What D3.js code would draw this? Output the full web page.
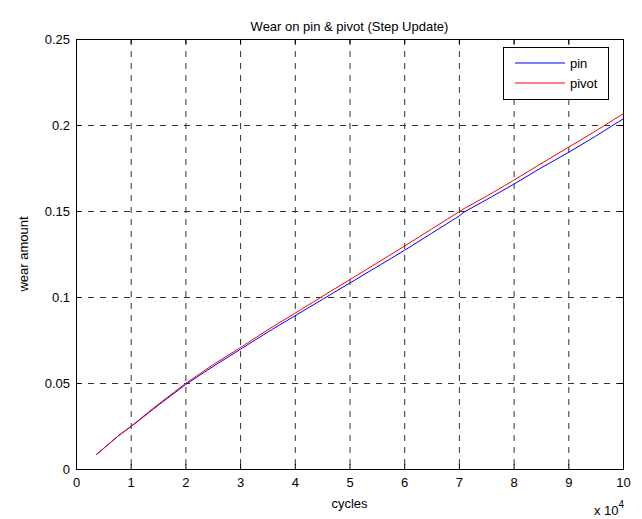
<!DOCTYPE html>
<html>
<head>
<meta charset="utf-8">
<script src="https://cdn.jsdelivr.net/npm/d3@7"></script>
<style>
  body { margin: 0; background: #fff; }
  text { font-family: "Liberation Sans", Arial, sans-serif; fill: #000; }
</style>
</head>
<body>
<div id="chart"></div>
<script>
// cycles, in units of 10^4
const cycles = [0.37, 0.77, 1.0, 1.5, 2.0, 2.5, 3.0, 3.5, 4.0, 4.5, 5.0, 5.5, 6.0, 6.5, 7.0, 7.1, 7.5, 8.0, 8.5, 9.0, 9.5, 10.0];
// wear amount for pin
const pinWear = [0.0083, 0.0192, 0.0245, 0.0370, 0.0490, 0.0595, 0.0695, 0.0795, 0.0890, 0.0985, 0.1080, 0.1175, 0.1270, 0.1370, 0.1470, 0.1495, 0.1565, 0.1655, 0.1750, 0.1840, 0.1935, 0.2035];
// wear amount for pivot
const pivotWear = [0.0083, 0.0192, 0.0247, 0.0375, 0.0497, 0.0605, 0.0705, 0.0808, 0.0905, 0.1003, 0.1100, 0.1197, 0.1295, 0.1395, 0.1495, 0.1515, 0.1585, 0.1678, 0.1775, 0.1870, 0.1965, 0.2065];

const xTicks = [0, 1, 2, 3, 4, 5, 6, 7, 8, 9, 10];
const yTicks = [0, 0.05, 0.1, 0.15, 0.2, 0.25];
const seriesNames = ["pin", "pivot"];
const seriesColors = ["#0000ff", "#ff0000"];

const svg_width = 642, svg_height = 519;
const margin = { top: 39, right: 19, bottom: 50, left: 76 };
const width = svg_width - margin.left - margin.right;
const height = svg_height - margin.top - margin.bottom;

const svg = d3.select("#chart").append("svg")
    .attr("width", svg_width).attr("height", svg_height);
const g = svg.append("g").attr("transform", `translate(${margin.left},${margin.top})`);

const x = d3.scaleLinear().domain([0, 10]).range([0, width]);
const y = d3.scaleLinear().domain([0, 0.25]).range([height, 0]);

// grid (dashed)
const grid = g.append("g").attr("class", "grid");
grid.selectAll(".vg").data(xTicks.slice(1, -1)).enter().append("line")
    .attr("x1", d => x(d) + 0.5).attr("x2", d => x(d) + 0.5)
    .attr("y1", 0).attr("y2", height)
    .attr("stroke", "#333").attr("stroke-dasharray", "6,6");
grid.selectAll(".hg").data(yTicks.slice(1, -1)).enter().append("line")
    .attr("y1", d => Math.round(y(d)) + 0.5).attr("y2", d => Math.round(y(d)) + 0.5)
    .attr("x1", 0).attr("x2", width)
    .attr("stroke", "#333").attr("stroke-dasharray", "6,6");

// lines
const line = d3.line().x((d, i) => x(cycles[i])).y(d => y(d));
[pinWear, pivotWear].forEach((vals, k) => {
    g.append("path").datum(vals)
        .attr("d", line)
        .attr("fill", "none")
        .attr("stroke", seriesColors[k])
        .attr("stroke-width", 1);
});

// axes, ticks pointing inward on all four sides
const fmtY = d => d === 0 ? "0" : String(d);
const xAxis = g.append("g").attr("transform", `translate(0,${height})`)
    .call(d3.axisBottom(x).tickValues(xTicks).tickSize(-5).tickPadding(9).tickFormat(d3.format("d")));
const xTop = g.append("g")
    .call(d3.axisTop(x).tickValues(xTicks).tickSize(-5).tickFormat(""));
const yAxis = g.append("g")
    .call(d3.axisLeft(y).tickValues(yTicks).tickSize(-5).tickPadding(6).tickFormat(fmtY));
const yRight = g.append("g").attr("transform", `translate(${width},0)`)
    .call(d3.axisRight(y).tickValues(yTicks).tickSize(-5).tickFormat(""));

[xAxis, xTop, yAxis, yRight].forEach(a => {
    a.selectAll("path").attr("stroke", "#000");
    a.selectAll("line").attr("stroke", "#000");
    a.selectAll("text").attr("font-size", "13px").attr("font-family", "Liberation Sans, Arial, sans-serif");
});

// title and axis labels
svg.append("text").attr("x", margin.left + width / 2).attr("y", 31)
    .attr("text-anchor", "middle").attr("font-size", "13px")
    .text("Wear on pin & pivot (Step Update)");
svg.append("text").attr("x", margin.left + width / 2).attr("y", 508)
    .attr("text-anchor", "middle").attr("font-size", "13px")
    .text("cycles");
svg.append("text")
    .attr("transform", `translate(28,${margin.top + height / 2}) rotate(-90)`)
    .attr("text-anchor", "middle").attr("font-size", "13px")
    .text("wear amount");
const mult = svg.append("text").attr("x", 594).attr("y", 515).attr("font-size", "13px");
mult.append("tspan").text("x 10");
mult.append("tspan").attr("dy", -7).attr("font-size", "10px").text("4");

// legend
const legend = svg.append("g").attr("transform", "translate(503,47)");
legend.append("rect").attr("x", 0.5).attr("y", 0.5).attr("width", 105).attr("height", 52)
    .attr("fill", "#fff").attr("stroke", "#000");
seriesNames.forEach((name, k) => {
    const ly = 16 + k * 20;
    legend.append("line").attr("x1", 12).attr("x2", 62).attr("y1", ly).attr("y2", ly)
        .attr("stroke", seriesColors[k]);
    legend.append("text").attr("x", 67).attr("y", ly + 5).attr("font-size", "13px").text(name);
});
</script>
</body>
</html>
